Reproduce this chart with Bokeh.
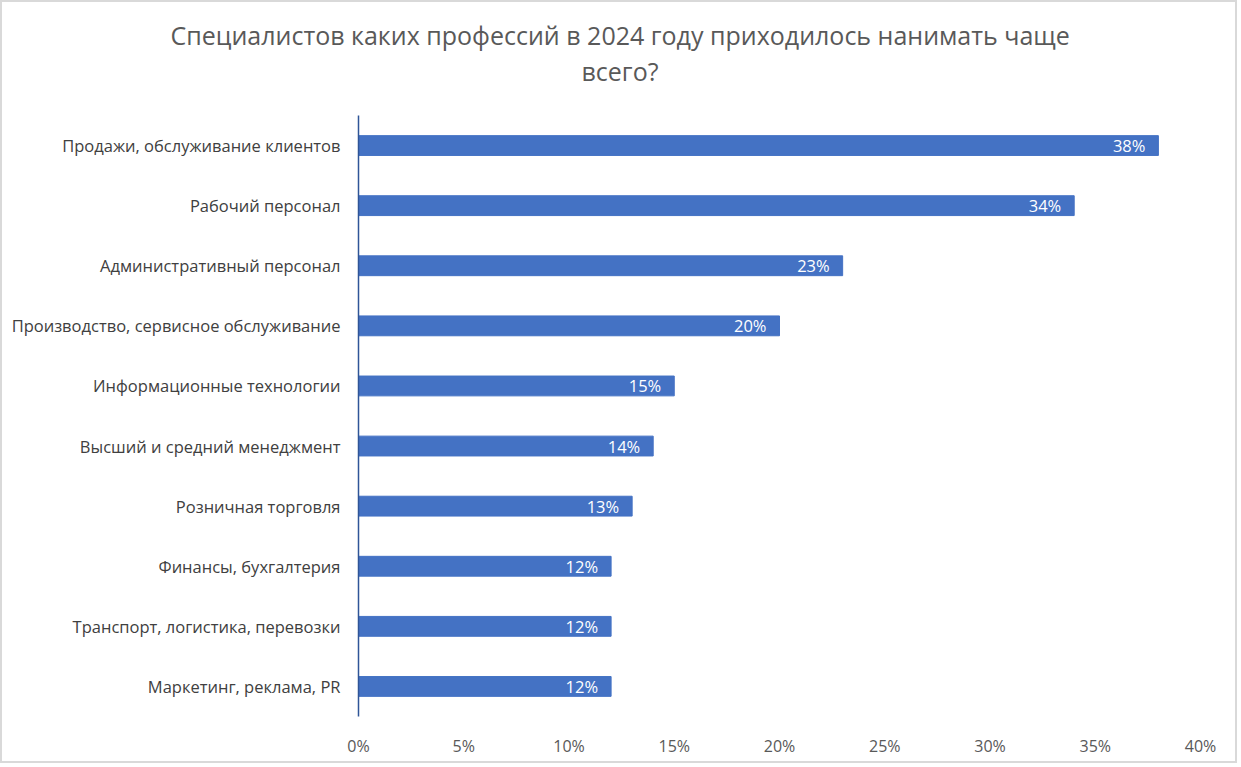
from bokeh.plotting import figure
from bokeh.models import Title, NumeralTickFormatter, FixedTicker, ColumnDataSource
from bokeh.core.properties import value
from bokeh.embed import file_html
from bokeh.resources import INLINE

categories = [
    "Продажи, обслуживание клиентов",
    "Рабочий персонал",
    "Административный персонал",
    "Производство, сервисное обслуживание",
    "Информационные технологии",
    "Высший и средний менеджмент",
    "Розничная торговля",
    "Финансы, бухгалтерия",
    "Транспорт, логистика, перевозки",
    "Маркетинг, реклама, PR",
]
values = [0.38, 0.34, 0.23, 0.20, 0.15, 0.14, 0.13, 0.12, 0.12, 0.12]
labels = ["38%", "34%", "23%", "20%", "15%", "14%", "13%", "12%", "12%", "12%"]
x_ticks = [0, 0.05, 0.10, 0.15, 0.20, 0.25, 0.30, 0.35, 0.40]
title_line1 = "Специалистов каких профессий в 2024 году приходилось нанимать чаще"
title_line2 = "всего?"

FONT = "Open Sans"
W, H = 1237, 763
LEFT, RIGHT, TOP, BOTTOM = 356, 39, 113, 49

src = ColumnDataSource(dict(cat=categories, val=values, lab=labels))

p = figure(
    width=W, height=H,
    y_range=list(reversed(categories)),
    x_range=(0, 0.40),
    output_backend="svg", toolbar_location=None,
    min_border_left=LEFT, min_border_right=RIGHT,
    min_border_top=TOP, min_border_bottom=BOTTOM,
)
p.outline_line_color = None
p.grid.grid_line_color = None
p.background_fill_color = "white"
p.border_fill_color = "white"

p.hbar(y="cat", right="val", left=0, height=0.33, source=src,
       fill_color="#4472C4", line_color="#4472C4")

p.text(x="val", y="cat", text="lab", source=src, x_offset=-13,
       text_align="right", text_baseline="middle", text_color="white",
       text_font=value(FONT), text_font_size="16.5px")

p.xaxis.ticker = FixedTicker(ticks=x_ticks)
p.xaxis.formatter = NumeralTickFormatter(format="0%")
p.xaxis.axis_line_color = None
p.xaxis.major_tick_line_color = None
p.xaxis.minor_tick_line_color = None
p.xaxis.major_label_standoff = 12
p.xaxis.major_label_text_font = FONT
p.xaxis.major_label_text_font_size = "16px"
p.xaxis.major_label_text_color = "#595959"

p.yaxis.axis_line_color = "#2F5597"
p.yaxis.axis_line_width = 1.5
p.yaxis.major_tick_line_color = None
p.yaxis.minor_tick_line_color = None
p.yaxis.major_label_standoff = 12
p.yaxis.major_label_text_font = FONT
p.yaxis.major_label_text_font_size = "16.5px"
p.yaxis.major_label_text_color = "#404040"

# spacer nearest the frame, then line 2, then line 1 (stacked upward)
p.add_layout(Title(text=" ", text_font_size="10px", standoff=12), "above")
p.add_layout(Title(text=title_line2, align="left", offset=223, vertical_align="top", standoff=2,
                   text_font=FONT, text_font_size="25px", text_font_style="normal",
                   text_color="#595959"), "above")
p.add_layout(Title(text=title_line1, align="left", offset=-188, vertical_align="bottom", standoff=2,
                   text_font=FONT, text_font_size="25px", text_font_style="normal",
                   text_color="#595959"), "above")

p.styles = {"border": "2px solid #d9d9d9", "box-sizing": "border-box"}

open("out.html", "w").write(file_html(p, INLINE))
